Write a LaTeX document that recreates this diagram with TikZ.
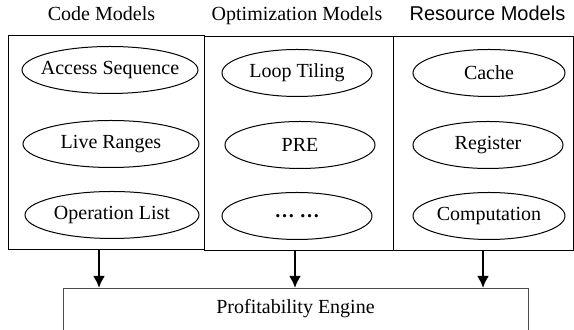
\documentclass[tikz,border=0pt]{standalone}
\usepackage{fontspec}
\setmainfont{Liberation Serif}
\newfontfamily\arialfont{Liberation Sans}
\usetikzlibrary{shapes.geometric,arrows.meta}

\begin{document}
\begin{tikzpicture}[x=0.5pt, y=-0.5pt,
    font=\fontsize{10}{12}\selectfont,
    model/.style = {draw, ellipse, line width=0.5pt, inner ysep=0pt, inner xsep=-30pt,
        minimum width=#1, minimum height=23.5pt},
    column/.style = {draw, line width=0.5pt, inner sep=0pt,
        minimum width=#1, minimum height=107pt},
    title/.style = {anchor=base},
    feed/.style = {-{Latex[length=6pt,width=6pt]}, line width=1.4pt}]
\clip (0,0) rectangle (574,330);
\node[title] (codet) at (101.5,21) {Code Models};
\node[title] (optt) at (297,21) {Optimization Models};
\node[title, font=\fontsize{10}{12}\arialfont] (rest) at (487.5,21) {Resource Models};
\node[column=98pt] (code) at (106,143) {};
\node[column=94.5pt] (opt) at (298.5,144) {};
\node[column=90pt] (res) at (483,144) {};
\node[model=88pt] (access) at (110,70) {Access Sequence};
\node[model=88pt] (live) at (111,144) {Live Ranges};
\node[model=87pt] (oplist) at (112,215) {Operation List};
\node[model=75pt] (tiling) at (297,73) {Loop Tiling};
\node[model=75pt] (pre) at (300,145) {PRE};
\node[model=75pt] (more) at (297,216) {\textbf{…\ …}};
\node[model=76pt] (cache) at (489,73) {Cache};
\node[model=75pt] (reg) at (488,145) {Register};
\node[model=76pt] (comp) at (489,216) {Computation};
\node[draw=black!70, line width=0.5pt, anchor=north, minimum width=232.5pt,
    inner ysep=3pt, text height=9.5pt, text depth=40pt] (engine) at (295.5,288)
    {Profitability Engine};
\draw[feed] ([xshift=-3.5pt]code.south) -- ([xshift=-3.5pt]code.south |- engine.north);
\draw[feed] ([xshift=-1.75pt]opt.south) -- ([xshift=-1.75pt]opt.south |- engine.north);
\draw[feed] (res.south) -- (res.south |- engine.north);
\end{tikzpicture}
\end{document}
